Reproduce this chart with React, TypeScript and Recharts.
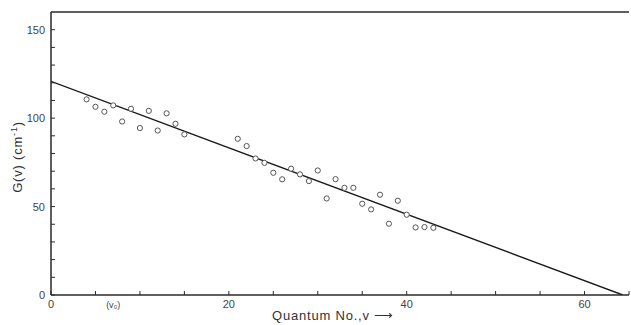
import React from 'react';
import { ComposedChart, XAxis, YAxis, Scatter, Line, ReferenceLine } from 'recharts';

// measured points G(v) vs quantum number v
const quantumV = [4, 5, 6, 7, 8, 9, 10, 11, 12, 13, 14, 15,
    21, 22, 23, 24, 25, 26, 27, 28, 29, 30, 31, 32, 33, 34, 35, 36, 37, 38, 39, 40, 41, 42, 43];
const gValues = [110.6, 106.4, 103.6, 107.2, 98.1, 105.3, 94.4, 104.1, 93.0, 102.7, 96.8, 90.8,
    88.3, 84.2, 77.2, 74.7, 69.1, 65.4, 71.4, 68.2, 64.4, 70.4, 54.6, 65.5, 60.6, 60.6, 51.6, 48.4, 56.7, 40.3, 53.3, 45.4, 38.2, 38.4, 38.0];

// straight-line fit, end points
const fitV = [0, 64.3];
const fitG = [120.8, 0];

const xTicks = [0, 5, 7, 10, 15, 20, 25, 30, 35, 40, 45, 50, 55, 60, 65];
const xLabels: Record<number, string> = { 0: '0', 7: '(v₀)', 20: '20', 40: '40', 60: '60' };
const yTicks = [0, 10, 20, 30, 40, 50, 60, 70, 80, 90, 100, 110, 120, 130, 140, 150];
const yLabels: Record<number, string> = { 0: '0', 50: '50', 100: '100', 150: '150' };

const points = quantumV.map((v, i) => ({ v, g: gValues[i] }));
const fit = fitV.map((v, i) => ({ v, g: fitG[i] }));

const INK = '#2a2a2a';
const FONT = '"Liberation Sans", Arial, sans-serif';

const YTick = (props: any) => {
    const { x, y, payload } = props;
    const label = yLabels[payload.value];
    const axisX = x + 6;
    return (
        <g>
            <line x1={axisX} x2={axisX + 4} y1={y} y2={y} stroke={INK} strokeWidth={1} />
            {label !== undefined && (
                <text x={x} y={y + 4} textAnchor="end" fontSize={11} fill="#444" fontFamily={FONT}>
                    {label}
                </text>
            )}
        </g>
    );
};

const XTick = (props: any) => {
    const { x, y, payload } = props;
    const label = xLabels[payload.value];
    const isV0 = payload.value === 7;
    return (
        <g>
            {!isV0 && <line x1={x} x2={x} y1={y} y2={y - 4} stroke={INK} strokeWidth={1} />}
            {label !== undefined && (
                <text x={x} y={y + 13} textAnchor="middle" fontSize={isV0 ? 9 : 11} fill="#444" fontFamily={FONT}>
                    {label}
                </text>
            )}
        </g>
    );
};

const Circle = (props: any) => {
    const { cx, cy } = props;
    return <circle cx={cx} cy={cy} r={2.6} fill="#fff" stroke="#555" strokeWidth={1} />;
};

export default function App() {
    return (
        <div style={{ position: 'absolute', left: 0, top: 0, width: 631, height: 325, background: '#fff' }}>
            <ComposedChart width={631} height={325} margin={{ top: 12, right: 2, left: 0, bottom: 0 }}>
                <XAxis
                    type="number"
                    dataKey="v"
                    domain={[0, 65]}
                    ticks={xTicks}
                    interval={0}
                    height={30}
                    tickSize={0}
                    tickMargin={0}
                    tick={<XTick />}
                    tickLine={false}
                    axisLine={{ stroke: INK, strokeWidth: 1.5 }}
                    allowDataOverflow
                />
                <YAxis
                    type="number"
                    dataKey="g"
                    domain={[0, 160]}
                    ticks={yTicks}
                    interval={0}
                    width={51}
                    tickSize={0}
                    tickMargin={6}
                    tick={<YTick />}
                    tickLine={false}
                    axisLine={{ stroke: INK, strokeWidth: 1.5 }}
                    allowDataOverflow
                />
                <ReferenceLine y={160} stroke={INK} strokeWidth={1.5} ifOverflow="visible" />
                <Line
                    data={fit}
                    dataKey="g"
                    stroke="#1a1a1a"
                    strokeWidth={1.4}
                    dot={false}
                    isAnimationActive={false}
                    type="linear"
                />
                <Scatter data={points} dataKey="g" shape={<Circle />} isAnimationActive={false} />
            </ComposedChart>
            <div
                style={{
                    position: 'absolute', left: 17, top: 157, transform: 'translate(-50%, -50%) rotate(-90deg)',
                    whiteSpace: 'nowrap', fontFamily: FONT, fontSize: 13, letterSpacing: 0.8, color: '#333'
                }}
            >
                G(v) (cm<sup style={{ fontSize: 9 }}>-1</sup>)
            </div>
            <div
                style={{
                    position: 'absolute', left: 272, top: 308, whiteSpace: 'nowrap',
                    fontFamily: FONT, fontSize: 13, letterSpacing: 0.8, color: '#333'
                }}
            >
                Quantum No.,v ⟶
            </div>
        </div>
    );
}
